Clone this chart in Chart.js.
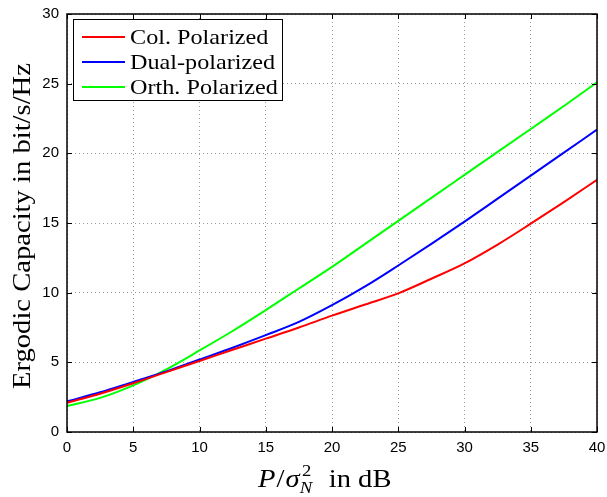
<!DOCTYPE html>
<html lang="en">
<head>
    <meta charset="UTF-8">
    <script src="https://cdn.jsdelivr.net/npm/chart.js"></script>
    <title>Ergodic Capacity</title>
    <style>
        body {
            margin: 0;
            padding: 0;
            background-color: #fff;
        }

        .container {
            width: 607px;
            height: 497px;
            position: relative;
        }
    </style>
</head>
<body>
    <div class="container">
        <canvas id="capacityChart" width="607" height="497"></canvas>
    </div>

    <script>
        // SNR in dB
        const snrDb = [0, 2.5, 5, 7.5, 10, 12.5, 15, 17.5, 20, 22.5, 25, 27.5, 30, 32.5, 35, 37.5, 40];

        // Ergodic capacity in bit/s/Hz
        const colPolarized = [2.1, 2.75, 3.5, 4.3, 5.1, 5.9, 6.7, 7.5, 8.35, 9.15, 9.95, 11.0, 12.1, 13.45, 14.95, 16.5, 18.1];
        const dualPolarized = [2.2, 2.85, 3.6, 4.35, 5.2, 6.05, 6.95, 7.9, 9.1, 10.45, 11.95, 13.5, 15.1, 16.75, 18.4, 20.05, 21.7];
        const orthPolarized = [1.85, 2.45, 3.35, 4.5, 5.85, 7.25, 8.75, 10.3, 11.85, 13.5, 15.15, 16.8, 18.45, 20.1, 21.75, 23.4, 25.1];

        const seriesNames = ['Col. Polarized', 'Dual-polarized', 'Orth. Polarized'];
        const seriesColors = ['#ff0000', '#0000ff', '#00ff00'];

        const xTicks = [0, 5, 10, 15, 20, 25, 30, 35, 40];
        const yTicks = [0, 5, 10, 15, 20, 25, 30];

        const toPoints = values => values.map((v, i) => ({ x: snrDb[i], y: v }));

        // the original text is LaTeX (Computer Modern), a bit wider than Times
        const SERIF = '"Liberation Serif", "Times New Roman", serif';
        const STRETCH = 1.1;

        // frame, inward ticks, legend box and axis titles (MATLAB look)
        const matlabDecor = {
            id: 'matlabDecor',
            afterDraw(chart) {
                const ctx = chart.ctx;
                const area = chart.chartArea;
                const xs = chart.scales.x;
                const ys = chart.scales.y;
                ctx.save();

                // inward ticks
                ctx.strokeStyle = '#000';
                ctx.lineWidth = 1;
                ctx.beginPath();
                xTicks.forEach(t => {
                    const px = Math.round(xs.getPixelForValue(t)) + 0.5;
                    ctx.moveTo(px, area.bottom);
                    ctx.lineTo(px, area.bottom - 5);
                    ctx.moveTo(px, area.top);
                    ctx.lineTo(px, area.top + 5);
                });
                yTicks.forEach(t => {
                    const py = Math.round(ys.getPixelForValue(t)) + 0.5;
                    ctx.moveTo(area.left, py);
                    ctx.lineTo(area.left + 5, py);
                    ctx.moveTo(area.right, py);
                    ctx.lineTo(area.right - 5, py);
                });
                ctx.stroke();

                // frame
                ctx.lineWidth = 1.5;
                ctx.strokeRect(area.left, area.top, area.right - area.left, area.bottom - area.top);

                // legend
                const lx = 73, ly = 19, lw = 209, lh = 81;
                ctx.fillStyle = '#fff';
                ctx.fillRect(lx, ly, lw, lh);
                ctx.lineWidth = 1;
                ctx.strokeStyle = '#000';
                ctx.strokeRect(lx + 0.5, ly + 0.5, lw, lh);
                seriesNames.forEach((name, i) => {
                    const y = 37 + i * 25;
                    ctx.strokeStyle = seriesColors[i];
                    ctx.lineWidth = 2;
                    ctx.beginPath();
                    ctx.moveTo(82, y);
                    ctx.lineTo(125, y);
                    ctx.stroke();
                    ctx.save();
                    ctx.translate(130, y + 7);
                    ctx.scale(STRETCH, 1);
                    ctx.font = '22px ' + SERIF;
                    ctx.fillStyle = '#000';
                    ctx.textBaseline = 'alphabetic';
                    ctx.fillText(name, 0, 0);
                    ctx.restore();
                });

                // y title
                ctx.save();
                ctx.translate(30, 226);
                ctx.rotate(-Math.PI / 2);
                ctx.scale(STRETCH, 1);
                ctx.font = '26px ' + SERIF;
                ctx.textAlign = 'center';
                ctx.textBaseline = 'alphabetic';
                ctx.fillStyle = '#000';
                ctx.fillText('Ergodic Capacity in bit/s/Hz', 0, 0);
                ctx.restore();

                // x title: P/σ²_N in dB
                ctx.save();
                ctx.translate(258, 487);
                ctx.scale(STRETCH, 1);
                ctx.textAlign = 'left';
                ctx.textBaseline = 'alphabetic';
                ctx.fillStyle = '#000';
                let cx = 0;
                const put = (text, font, dy) => {
                    ctx.font = font;
                    ctx.fillText(text, cx, dy);
                    return ctx.measureText(text).width;
                };
                cx += put('P', 'italic 26px ' + SERIF, 0) + 1;
                cx += put('/', '26px ' + SERIF, 0) + 1;
                cx += put('σ', 'italic 26px ' + SERIF, 0) + 1;
                ctx.font = '17px ' + SERIF;
                ctx.fillText('2', cx + 1, -11);
                ctx.font = 'italic 17px ' + SERIF;
                ctx.fillText('N', cx - 1, 6);
                cx += ctx.measureText('N').width + 14;
                put('in dB', '26px ' + SERIF, 0);
                ctx.restore();

                ctx.restore();
            }
        };

        const ctx = document.getElementById('capacityChart').getContext('2d');
        const capacityChart = new Chart(ctx, {
            type: 'line',
            data: {
                datasets: [
                    { label: seriesNames[0], data: toPoints(colPolarized), borderColor: seriesColors[0], borderWidth: 2, pointRadius: 0, cubicInterpolationMode: 'monotone' },
                    { label: seriesNames[1], data: toPoints(dualPolarized), borderColor: seriesColors[1], borderWidth: 2, pointRadius: 0, cubicInterpolationMode: 'monotone' },
                    { label: seriesNames[2], data: toPoints(orthPolarized), borderColor: seriesColors[2], borderWidth: 2, pointRadius: 0, cubicInterpolationMode: 'monotone' }
                ]
            },
            options: {
                responsive: false,
                animation: false,
                layout: { padding: { top: 14, right: 10, left: 0, bottom: 0 } },
                plugins: {
                    legend: { display: false },
                    tooltip: { enabled: false }
                },
                scales: {
                    x: {
                        type: 'linear',
                        min: 0,
                        max: 40,
                        afterBuildTicks: scale => { scale.ticks = xTicks.map(v => ({ value: v })); },
                        afterFit: scale => {
                            scale.height = 65;
                            scale.paddingLeft = 0;
                            scale.paddingRight = 0;
                        },
                        grid: { color: '#999', drawTicks: false, lineWidth: 1 },
                        border: { display: false, dash: [1, 3] },
                        ticks: { color: '#000', padding: 7, font: { family: '"Liberation Sans", Arial, sans-serif', size: 15 } }
                    },
                    y: {
                        min: 0,
                        max: 30,
                        afterBuildTicks: scale => { scale.ticks = yTicks.map(v => ({ value: v })); },
                        afterFit: scale => {
                            scale.width = 67;
                            scale.paddingTop = 0;
                            scale.paddingBottom = 0;
                        },
                        grid: { color: '#999', drawTicks: false, lineWidth: 1 },
                        border: { display: false, dash: [1, 3] },
                        ticks: { color: '#000', padding: 8, font: { family: '"Liberation Sans", Arial, sans-serif', size: 15 } }
                    }
                }
            },
            plugins: [matlabDecor]
        });
    </script>
</body>
</html>
